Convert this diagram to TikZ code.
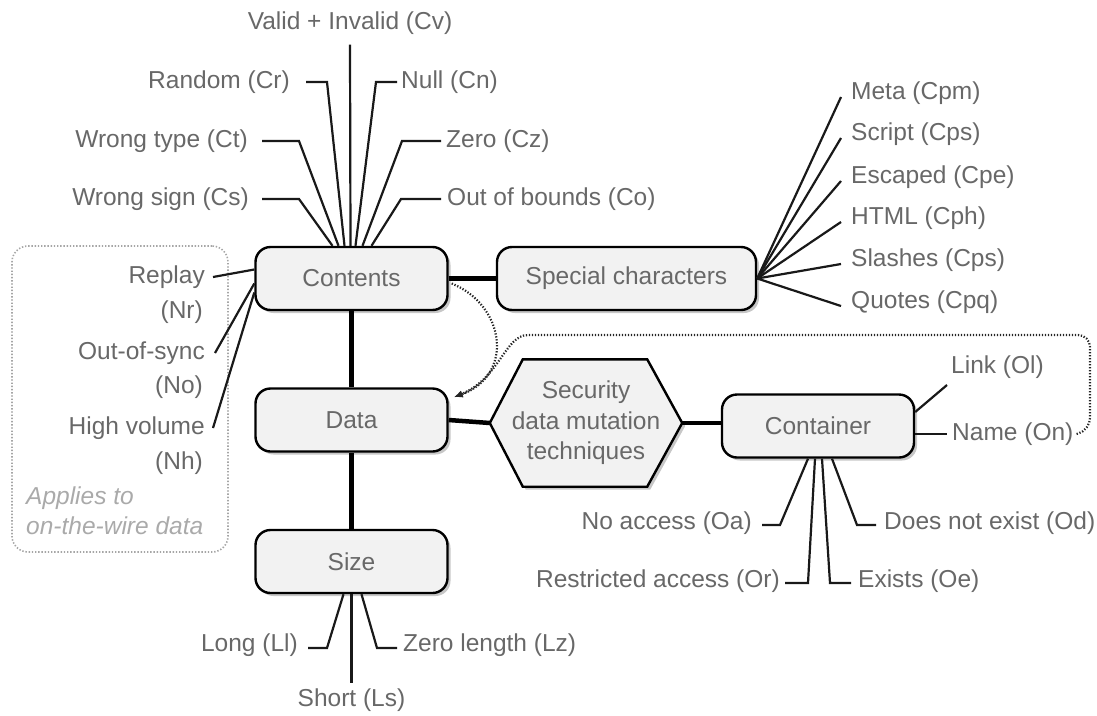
\documentclass[tikz,border=0pt]{standalone}
\usepackage{fontspec}
\setmainfont{Liberation Sans}
\usetikzlibrary{shadows,arrows.meta,calc}
\definecolor{txt}{RGB}{104,104,104}
\definecolor{boxfill}{RGB}{242,242,242}
\definecolor{lighttxt}{RGB}{170,170,170}
\begin{document}
\begin{tikzpicture}[x=1pt,y=-1pt,
  font=\fontsize{24.5}{30.5}\selectfont,
  myshadow/.style={drop shadow={shadow xshift=3pt,shadow yshift=-3pt,fill=black!22,opacity=1}},
  box/.style={draw=black,line width=2.4pt,rounded corners=15pt,fill=boxfill,
    minimum width=192pt,minimum height=63pt,inner sep=0pt,text=txt,myshadow},
  hexline/.style={draw=black,line width=2.4pt,fill=boxfill,line join=miter,myshadow},
  lbl/.style={inner sep=0pt,text=txt},
  bond/.style={line width=4.5pt},
  fan/.style={line width=2.2pt,draw=black!90},
  dotarr/.style={draw=black!85,line width=2.2pt,dash pattern=on 1.3pt off 1.7pt,
    -{Latex[length=9pt,width=7pt]}},
  wirebox/.style={draw=black!35,line width=1.6pt,dash pattern=on 1.4pt off 1.8pt,
    rounded corners=16pt,minimum width=216pt,minimum height=306pt,inner sep=0pt}]
\useasboundingbox (0,0) rectangle (1097,715);

% left dotted region
\node[wirebox] (wire) at (120,399) {};

% main boxes
\node[box] (cont) at (351.5,278.5) {Contents};
\node[box,minimum width=259pt] (spec) at (626.5,278.5) {Special characters};
\node[box] (data) at (351.5,420) {Data};
\node[box] (size) at (351.5,561.5) {Size};
\node[box] (cbox) at (818,426) {Container};

% hexagon
\node[minimum width=192pt,minimum height=127pt,inner sep=0pt] (hex) at (586,423) {};
\draw[hexline] (hex.west) -- ([xshift=33pt]hex.north west) -- ([xshift=-35pt]hex.north east)
  -- (hex.east) -- ([xshift=-35pt]hex.south east) -- ([xshift=33pt]hex.south west) -- cycle;
\node[lbl,align=center] (hext) at (hex.center) {Security\\data mutation\\techniques};

% bonds
\draw[bond] (cont.east) -- (spec.west);
\draw[bond] (cont.south) -- (data.north);
\draw[bond] (data.south) -- (size.north);
\draw[bond] (data.east) -- (hex.west);
\draw[bond] (hex.east) -- (hex.east -| cbox.west);

% top labels of Contents
\node[lbl] (cv) at (350,23) {Valid + Invalid (Cv)};
\node[lbl,anchor=east] (cr) at (290,82) {Random (Cr)};
\node[lbl,anchor=east] (ct) at (248,141) {Wrong type (Ct)};
\node[lbl,anchor=east] (cs) at (249,199) {Wrong sign (Cs)};
\node[lbl,anchor=west] (cn) at (401,82) {Null (Cn)};
\node[lbl,anchor=west] (cz) at (446,141) {Zero (Cz)};
\node[lbl,anchor=west] (co) at (447,199) {Out of bounds (Co)};
\draw[fan] ([yshift=-10pt]cv.south) -- ([xshift=-1pt]cont.north);
\draw[fan] ([xshift=16pt]cr.east) -- ([xshift=37pt]cr.east) -- ([xshift=-7pt]cont.north);
\draw[fan] ([xshift=14pt]ct.east) -- ([xshift=51pt]ct.east) -- ([xshift=-13pt]cont.north);
\draw[fan] ([xshift=13pt]cs.east) -- ([xshift=50pt]cs.east) -- ([xshift=-19pt]cont.north);
\draw[fan] ([xshift=-4pt]cn.west) -- ([xshift=-25pt]cn.west) -- ([xshift=4pt]cont.north);
\draw[fan] ([xshift=-5pt]cz.west) -- ([xshift=-44pt]cz.west) -- ([xshift=11pt]cont.north);
\draw[fan] ([xshift=-6pt]co.west) -- ([xshift=-46pt]co.west) -- ([xshift=20pt]cont.north);

% left labels
\node[lbl,anchor=east] (nr1) at (205,277) {Replay};
\node[lbl,anchor=east] (nr2) at (203,312) {(Nr)};
\node[lbl,anchor=east] (no1) at (205,353) {Out-of-sync};
\node[lbl,anchor=east] (no2) at (203,387) {(No)};
\node[lbl,anchor=east] (nh1) at (205,428) {High volume};
\node[lbl,anchor=east] (nh2) at (203,463) {(Nh)};
\node[lbl,anchor=west,text=lighttxt,font=\fontsize{24.5}{30}\selectfont\itshape] (ap1) at (26,498) {Applies to};
\node[lbl,anchor=west,text=lighttxt,font=\fontsize{24.5}{30}\selectfont\itshape] (ap2) at (26,526) {on-the-wire data};
\draw[fan] ([xshift=8pt]nr1.east) -- ([yshift=9pt]cont.west);
\draw[fan] ([xshift=10pt]no1.east) -- ([yshift=-5pt]cont.west);
\draw[fan] ([xshift=8pt]nh1.east) -- ([yshift=-14pt]cont.west);

% special characters
\node[lbl,anchor=west] (cpm) at (851,93) {Meta (Cpm)};
\node[lbl,anchor=west] (cps) at (851,134) {Script (Cps)};
\node[lbl,anchor=west] (cpe) at (851,177) {Escaped (Cpe)};
\node[lbl,anchor=west] (cph) at (851,218) {HTML (Cph)};
\node[lbl,anchor=west] (cpsl) at (851,260) {Slashes (Cps)};
\node[lbl,anchor=west] (cpq) at (851,302) {Quotes (Cpq)};
\foreach \n in {cpm,cps,cpe,cph,cpsl,cpq}
  \draw[fan] (spec.east) -- ([xshift=-10pt,yshift=-4pt]\n.west);

% container
\node[lbl,anchor=west] (ol) at (951,367) {Link (Ol)};
\node[lbl,anchor=west] (on) at (952,434) {Name (On)};
\draw[fan] ([yshift=14pt]cbox.east) -- ([xshift=-4pt,yshift=-18pt]ol.west);
\draw[fan] (cbox.east |- on.west) -- ([xshift=-5pt]on.west);
\node[lbl,anchor=east] (oa) at (752,523) {No access (Oa)};
\node[lbl,anchor=east] (or) at (780,581) {Restricted access (Or)};
\node[lbl,anchor=west] (oe) at (858,581) {Exists (Oe)};
\node[lbl,anchor=west] (od) at (884,523) {Does not exist (Od)};
\draw[fan] ([xshift=10pt,yshift=-2pt]oa.east) -- ([xshift=28pt,yshift=-2pt]oa.east) -- ([xshift=-10pt]cbox.south);
\draw[fan] ([xshift=5pt,yshift=-2pt]or.east) -- ([xshift=28pt,yshift=-2pt]or.east) -- ([xshift=-3pt]cbox.south);
\draw[fan] ([xshift=-7pt,yshift=-2pt]oe.west) -- ([xshift=-28pt,yshift=-2pt]oe.west) -- ([xshift=4pt]cbox.south);
\draw[fan] ([xshift=-8pt,yshift=-2pt]od.west) -- ([xshift=-27pt,yshift=-2pt]od.west) -- ([xshift=14pt]cbox.south);

% size
\node[lbl,anchor=east] (ll) at (298,645) {Long (Ll)};
\node[lbl] (ls) at (351.5,700) {Short (Ls)};
\node[lbl,anchor=west] (lz) at (403,645) {Zero length (Lz)};
\draw[fan] ([xshift=10pt,yshift=-3pt]ll.east) -- ([xshift=29pt,yshift=-3pt]ll.east) -- ([xshift=-8pt]size.south);
\draw[fan] (size.south) -- ([yshift=5pt]ls.north);
\draw[fan] ([xshift=-6pt,yshift=-3pt]lz.west) -- ([xshift=-26pt,yshift=-3pt]lz.west) -- ([xshift=10pt]size.south);

% dotted arrows
\coordinate (tip) at ([xshift=5pt,yshift=-10pt]data.north east);
\coordinate (c1) at (505,305);
\coordinate (c2) at (515,375);
\coordinate (rb) at (1090,430);
\coordinate (rt) at (1090,335);
\coordinate (lt) at (540,335);
\coordinate (c3) at (505,335);
\coordinate (c4) at (500,378);
\draw[dotarr] ([xshift=3pt,yshift=-5pt]cont.east) .. controls (c1) and (c2) .. (tip);
\draw[dotarr,rounded corners=12pt] ([xshift=3pt]on.east) -- (rb) -- (rt) -- (lt) .. controls (c3) and (c4) .. (tip);
\end{tikzpicture}
\end{document}
